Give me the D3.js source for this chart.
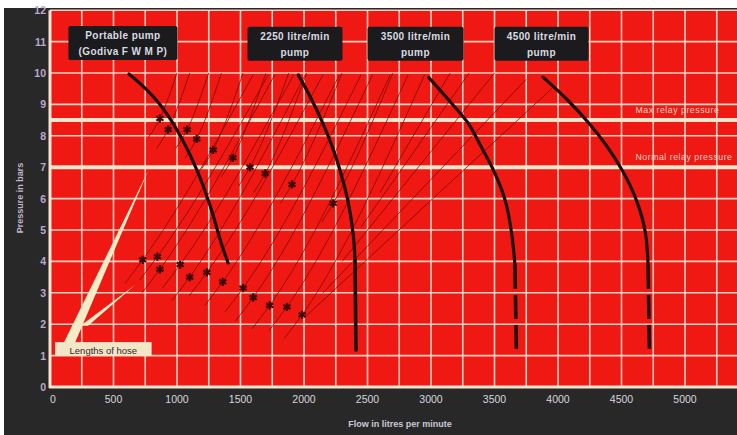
<!DOCTYPE html>
<html><head><meta charset="utf-8">
<script src="https://cdn.jsdelivr.net/npm/d3@7"></script>
<style>html,body{margin:0;padding:0;background:#fff;}svg{display:block;}</style>
</head><body>
<script>
// ---------- data ----------
const xTicks = [0,500,1000,1500,2000,2500,3000,3500,4000,4500,5000];
const yTicks = [0,1,2,3,4,5,6,7,8,9,10,11,12];
const pumpNames = ["Portable pump|(Godiva F W M P)","2250 litre/min|pump","3500 litre/min|pump","4500 litre/min|pump"];
// pump curves (flow l/min, pressure bar)
const portableFlow = [622, 748, 858, 953, 1031, 1157, 1264, 1358, 1402];
const portableP    = [9.97, 9.52, 9.04, 8.50, 7.96, 6.91, 5.73, 4.46, 3.95];
const p2250Flow = [1955, 2062, 2147, 2220, 2283, 2344, 2386, 2402];
const p2250P    = [9.94, 9.14, 8.41, 7.68, 6.91, 5.96, 4.91, 4.04];
const p2250TailFlow = [2402, 2409];
const p2250TailP    = [4.04, 1.18];
const p3500Flow = [2981, 3139, 3291, 3391, 3491, 3583, 3634, 3661];
const p3500P    = [9.86, 9.14, 8.41, 7.68, 6.91, 5.96, 4.91, 3.89];
const p3500TailFlow = [3661, 3672];
const p3500TailP    = [3.89, 1.18];
const p4500Flow = [3882, 4075, 4242, 4383, 4504, 4616, 4688, 4709];
const p4500P    = [9.87, 9.14, 8.41, 7.68, 6.91, 5.96, 4.91, 3.89];
const p4500TailFlow = [4709, 4720];
const p4500TailP    = [3.89, 1.18];
// relay pressures
const relayNames = ["Max relay pressure","Normal relay pressure"];
const relayP = [8.5, 7];
// lengths-of-hose markers: lower track and upper track
const lowFlow = [730, 845, 865, 1025, 1100, 1235, 1360, 1520, 1600, 1730, 1865, 1985];
const lowP    = [4.05, 4.15, 3.75, 3.9, 3.5, 3.65, 3.35, 3.15, 2.85, 2.6, 2.55, 2.3];
const lowEndFlow = [1600, 1720, 1770, 1920, 2010, 2150, 2280, 2450, 2540, 2680, 2820, 2950];
const upFlow = [865, 930, 1080, 1155, 1285, 1440, 1575, 1695, 1905, 2230];
const upP    = [8.55, 8.2, 8.2, 7.9, 7.55, 7.3, 7.0, 6.8, 6.45, 5.85];
const upEndFlow = [1000, 1100, 1250, 1350, 1520, 1700, 1880, 2020, 2300, 2700];
// long hose lines running towards the larger pumps
const longStartFlow = [2000, 2150, 2300, 2450, 2600];
const longStartP    = [2.2, 3.0, 4.0, 5.1, 6.2];
const longEndFlow   = [3950, 3750, 3500, 3300, 3150];
const longEndP      = [9.5, 9.8, 10, 10, 10];

// ---------- layout ----------
const W = 737, H = 435;
const x = d3.scaleLinear().domain([0, 5000]).range([50, 685]);
const y = d3.scaleLinear().domain([0, 12]).range([387, 10.2]);
const FONT = "Liberation Sans, Arial, sans-serif";

const svg = d3.select("body").append("svg").attr("width", W).attr("height", H);
svg.append("rect").attr("x",0).attr("y",0).attr("width",W).attr("height",H).attr("fill","#fff");
svg.append("rect").attr("x",4).attr("y",8).attr("width",W-4).attr("height",H-8).attr("fill","#292829");
svg.append("rect").attr("x",x(0)).attr("y",y(12)).attr("width",W-x(0)).attr("height",y(0)-y(12)).attr("fill","#ef1812");

// grid
const g = svg.append("g");
g.selectAll("line.v").data(d3.range(250, 5500, 250)).join("line")
  .attr("x1",d=>x(d)).attr("x2",d=>x(d)).attr("y1",y(12)).attr("y2",y(0))
  .attr("stroke","#f7d2c2").attr("stroke-width",1.6);
g.selectAll("line.h").data(d3.range(1,13)).join("line")
  .attr("x1",x(0)).attr("x2",W).attr("y1",d=>y(d)).attr("y2",d=>y(d))
  .attr("stroke","#f7d2c2").attr("stroke-width",1.6);
g.selectAll("line.r").data(relayP).join("line")
  .attr("x1",x(0)).attr("x2",W).attr("y1",d=>y(d)).attr("y2",d=>y(d))
  .attr("stroke","#f9e4cc").attr("stroke-width",4);
g.selectAll("text.r").data(relayNames).join("text")
  .attr("x",x(4610)).attr("y",(d,i)=>y(relayP[i])-7)
  .attr("font-family",FONT).attr("font-size",8.8).attr("letter-spacing",0.5)
  .attr("fill","#f6d2c4").text(d=>d);
svg.append("line").attr("x1",x(0)).attr("x2",x(0)).attr("y1",y(12)).attr("y2",y(0)+1).attr("stroke","#f4e3d0").attr("stroke-width",3);
svg.append("line").attr("x1",x(0)-1).attr("x2",W).attr("y1",y(0)).attr("y2",y(0)).attr("stroke","#f4e3d0").attr("stroke-width",3);

// hose lines
const hl = d3.line().x(d=>x(d[0])).y(d=>y(d[1])).curve(d3.curveMonotoneX);
const hose = svg.append("g").attr("stroke","#7a0b0b").attr("stroke-width",0.9).attr("fill","none").attr("opacity",0.85);
lowFlow.forEach((f,i)=>{
  hose.append("path").attr("d", hl([[f-140, lowP[i]-0.75],[f, lowP[i]],[lowEndFlow[i], 9.95]]));
});
upFlow.forEach((f,i)=>{
  hose.append("path").attr("d", hl([[f-90, upP[i]-0.6],[f, upP[i]],[upEndFlow[i], 10]]));
});
longStartFlow.forEach((f,i)=>{
  hose.append("path").attr("d", hl([[f, longStartP[i]],[longEndFlow[i], longEndP[i]]]));
});
// markers
const star = d3.symbol().type(d3.symbolAsterisk).size(48);
svg.append("g").selectAll("path").data(lowFlow.map((f,i)=>[f,lowP[i]]).concat(upFlow.map((f,i)=>[f,upP[i]])))
  .join("path").attr("d",star).attr("transform",d=>`translate(${x(d[0])},${y(d[1])})`)
  .attr("stroke","#420707").attr("stroke-width",2.2).attr("fill","none");

// pump curves (monotone in pressure so the arcs stay smooth)
const line = d3.line().x(d=>x(d[0])).y(d=>y(d[1])).curve(d3.curveMonotoneY);
const zip = (a,b)=>a.map((v,i)=>[v,b[i]]);
const pc = svg.append("g").attr("fill","none").attr("stroke","#1e0b0b").attr("stroke-width",3.2).attr("stroke-linecap","round");
pc.append("path").attr("d", line(zip(portableFlow,portableP)));
pc.append("path").attr("d", line(zip(p2250Flow,p2250P)));
pc.append("path").attr("d", line(zip(p2250TailFlow,p2250TailP))).attr("stroke-width",3.6);
pc.append("path").attr("d", line(zip(p3500Flow,p3500P)));
pc.append("path").attr("d", line(zip(p4500Flow,p4500P)));
pc.append("path").attr("d", line(zip(p3500TailFlow,p3500TailP))).attr("stroke-dasharray","24,6").attr("stroke-linecap","butt").attr("stroke-width",3.6);
pc.append("path").attr("d", line(zip(p4500TailFlow,p4500TailP))).attr("stroke-dasharray","24,6").attr("stroke-linecap","butt").attr("stroke-width",3.6);

// pump title boxes
const boxFlow = [145, 1555, 2500, 3500];
const boxW = [109, 95, 96, 94];
const boxTopP = [11.5, 11.47, 11.47, 11.47];
pumpNames.forEach((n,i)=>{
  const bx = x(boxFlow[i]), by = y(boxTopP[i]);
  svg.append("rect").attr("x",bx).attr("y",by).attr("width",boxW[i]).attr("height",34).attr("rx",2).attr("fill","#1b1a1c");
  n.split("|").forEach((t,k)=>{
    svg.append("text").attr("x",bx+boxW[i]/2).attr("y",by+13+k*16).attr("text-anchor","middle")
      .attr("font-family",FONT).attr("font-size",10).attr("font-weight","bold").attr("letter-spacing",0.4)
      .attr("fill","#d9dbe2").text(t);
  });
});

// lengths of hose pointers
const ptr = svg.append("g").attr("fill","#f3ecc6");
ptr.append("polygon").attr("points",[[x(95),y(1.3)],[x(185),y(1.3)],[x(775),y(6.9)]].map(p=>p.join(",")).join(" "));
ptr.append("polygon").attr("points",[[x(240),y(1.95)],[x(300),y(1.95)],[x(670),y(3.25)]].map(p=>p.join(",")).join(" "));
svg.append("rect").attr("x",x(40)).attr("y",y(1.43)).attr("width",x(800)-x(40)).attr("height",y(0.99)-y(1.43)).attr("fill","#f2e6c8");
svg.append("text").attr("x",(x(40)+x(800))/2).attr("y",y(1.05)).attr("text-anchor","middle")
  .attr("font-family",FONT).attr("font-size",9.5).attr("fill","#3b2626").text("Lengths of hose");

// tick labels
svg.append("g").selectAll("text").data(xTicks).join("text")
  .attr("x",d=>x(d)+(d===0?3:0)).attr("y",y(0)+16).attr("text-anchor","middle")
  .attr("font-family",FONT).attr("font-size",10.5)
  .attr("fill","#d6d6de").text(d=>d);
svg.append("g").selectAll("text").data(yTicks).join("text")
  .attr("x",46).attr("y",d=>y(d)+4).attr("text-anchor","end")
  .attr("font-family",FONT).attr("font-size",10.5).attr("font-weight","bold")
  .attr("fill","#b9a8cc").text(d=>d);
svg.append("text").attr("x",400).attr("y",427).attr("text-anchor","middle")
  .attr("font-family",FONT).attr("font-size",9).attr("font-weight","bold")
  .attr("fill","#c8c8d2").text("Flow in litres per minute");
svg.append("text").attr("transform","translate(23,198) rotate(-90)").attr("text-anchor","middle")
  .attr("font-family",FONT).attr("font-size",9).attr("font-weight","bold")
  .attr("fill","#c0b6c8").text("Pressure in bars");
</script>
</body></html>
